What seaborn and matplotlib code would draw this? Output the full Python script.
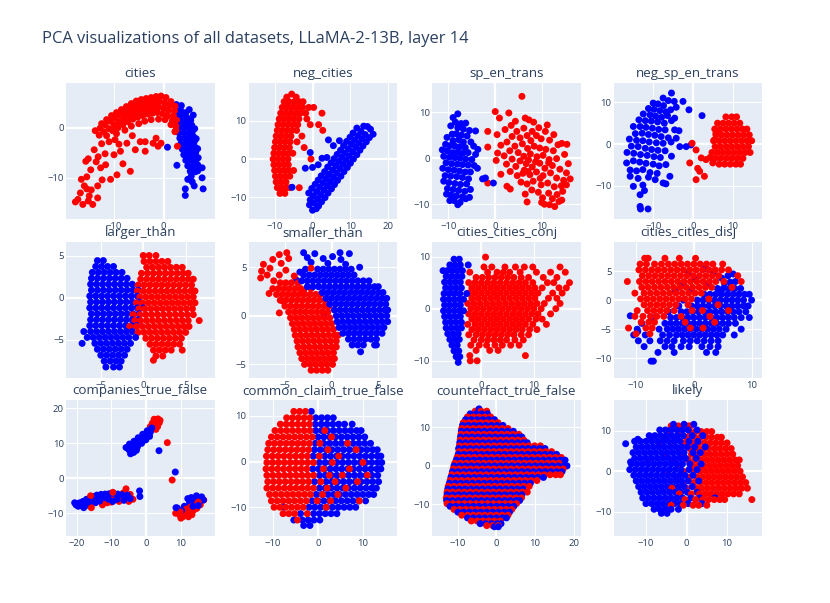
import numpy as np
import pandas as pd
import matplotlib
matplotlib.use("Agg")
import matplotlib.pyplot as plt
import seaborn as sns

sns.set_theme(style="darkgrid")
plt.rcParams["font.family"] = ["Open Sans", "DejaVu Sans"]
plt.rcParams["axes.unicode_minus"] = True

TEXT = "#2a3f5f"
BG = "#E5ECF6"
PALETTE = {"red": "#ff0000", "blue": "#0000ff"}

TITLE = "PCA visualizations of all datasets, LLaMA-2-13B, layer 14"

# ---------------- data ----------------
# cities
cities_red = [
    (-12.5, 0.8), (-11.5, 1.6), (-10.5, 2.4), (-9.5, 3.0), (-8.5, 3.6), (-7.5, 4.2), (-6.5, 4.8), (-5.5, 5.3),
    (-4.5, 5.6), (-3.5, 5.8), (-2.5, 6.0), (-1.5, 6.2), (-0.5, 6.3), (0.5, 6.0), (1.5, 5.2), (2.3, 4.3),
    (-13.8, -0.6), (-12.8, -0.1), (-11.8, 0.6), (-10.8, 1.3), (-9.8, 1.9), (-8.8, 2.5), (-7.8, 3.0), (-6.8, 3.6),
    (-5.8, 4.1), (-4.8, 4.5), (-3.8, 4.7), (-2.8, 4.9), (-1.8, 5.1), (-0.8, 5.2), (0.2, 5.0), (1.2, 4.4), (2.2, 3.4),
    (-13.0, -1.5), (-12.0, -0.8), (-11.0, -0.2), (-10.0, 0.6), (-9.0, 1.2), (-8.0, 1.8), (-7.0, 2.4), (-6.0, 2.9),
    (-5.0, 3.3), (-4.0, 3.6), (-3.0, 3.8), (-2.0, 4.0), (-1.0, 4.1), (0.0, 3.9), (1.0, 3.4), (2.0, 2.4), (2.6, 1.5),
    (-11.5, -1.6), (-10.3, -0.6), (-9.2, 0.0), (-8.2, 0.6), (-7.2, 1.2), (-6.2, 1.7), (-5.2, 2.1), (-4.2, 2.4),
    (-3.2, 2.7), (-2.2, 2.9), (-1.2, 3.0), (-0.2, 2.8), (0.8, 2.3), (1.8, 1.4), (2.5, 0.3),
    (-9.5, -1.2), (-7.8, -0.5), (-6.5, 0.3), (-5.0, 0.8), (-3.8, 1.3), (-2.5, 1.6), (-1.0, 1.7), (0.3, 1.6),
    (1.5, 0.6), (2.3, -0.8),
    (-14.0, -4.4), (-15.2, -6.2), (-15.7, -6.7), (-13.2, -5.8), (-12.5, -3.2), (-11.0, -2.8), (-14.7, -8.4),
    (-12.7, -8.0), (-11.7, -7.4), (-13.6, -6.8), (-16.6, -10.3), (-15.5, -9.8), (-16.0, -11.6), (-13.3, -11.6),
    (-10.7, -10.3), (-9.4, -9.4), (-6.7, -8.7), (-17.3, -14.3), (-16.3, -15.3), (-14.3, -15.3), (-13.3, -14.0),
    (-15.0, -13.6), (-16.8, -13.0), (-14.6, -12.4), (-10.0, -5.4), (-8.7, -4.7), (-5.7, -4.4), (-3.7, -4.7),
    (-7.4, -3.1), (-4.7, -2.8), (-2.1, -3.1), (-1.1, -3.7), (-0.5, -3.1), (-1.5, -2.1), (-3.7, -2.8), (-9.0, -3.3),
    (-11.8, -5.2), (-12.4, -10.4), (-15.5, -12.2), (-6.3, -1.6), (-9.8, -2.4), (-8.2, -7.2), (2.5, -0.5),
    (2.8, -3.7), (-17.8, -14.8), (-15.2, -14.6),
]
cities_blue = [
    (2.6, 4.6), (3.6, 4.4), (2.5, 3.5), (3.5, 3.4), (4.5, 3.0), (2.7, 2.4), (3.7, 2.3), (4.7, 2.0), (5.5, 1.5),
    (2.8, 1.2), (3.8, 1.2), (4.8, 1.0), (5.7, 0.5), (3.0, 0.1), (4.0, 0.1), (5.0, 0.0), (5.9, -0.6), (3.1, -1.0),
    (4.1, -1.0), (5.1, -1.1), (6.0, -1.7), (3.3, -2.1), (4.3, -2.1), (5.3, -2.2), (6.2, -2.8), (3.5, -3.2),
    (4.5, -3.2), (5.5, -3.3), (6.4, -3.9), (3.8, -4.3), (4.8, -4.3), (5.8, -4.4), (6.5, -5.0), (4.1, -5.4),
    (5.1, -5.4), (6.1, -5.6), (4.5, -6.5), (5.5, -6.5), (6.5, -6.6), (4.9, -7.6), (5.9, -7.7), (5.4, -8.7),
    (6.4, -8.8), (5.6, -9.7), (7.8, -8.0), (7.8, -10.0), (8.0, -12.2), (6.2, -11.6), (4.4, -12.2), (4.4, -13.5),
    (4.9, -10.3), (2.7, -7.5), (0.8, -3.9), (6.9, -8.6), (5.8, -10.8),
    (6.3, -0.2), (6.6, -2.2), (6.9, -4.2), (7.0, -6.0), (6.9, -7.4), (5.2, 3.6), (6.0, 2.5),
]

# neg_cities
neg_cities_red_rows = [
    (17.0, [-5.5]),
    (16.2, [-6.8, -4.3]),
    (15.0, [-7.5, -6.2, -4.8, -3.5, -2.5]),
    (13.5, [-8.0, -6.7, -5.4, -4.0, -2.6, -1.0, 0.3]),
    (12.0, [-8.4, -7.1, -5.8, -4.5, -3.2, -1.8, 2.5]),
    (10.5, [-8.8, -7.5, -6.2, -4.9, -3.6, -1.5]),
    (9.0, [-9.1, -7.8, -6.5, -5.2, -3.9, -0.6, 1.6]),
    (7.5, [-9.3, -8.0, -6.7, -5.4, -4.2, 2.7]),
    (6.0, [-9.6, -8.3, -7.0, -5.7, -2.8]),
    (4.5, [-9.8, -8.5, -7.2, -5.9, -4.1]),
    (3.0, [-10.0, -8.7, -7.4, -6.1, -2.2]),
    (1.5, [-10.2, -8.9, -7.6, -6.3, -5.2]),
    (0.0, [-10.4, -9.1, -7.8, -6.5, -0.4]),
    (-1.5, [-10.2, -8.9, -7.6, -6.4]),
    (-3.0, [-10.0, -8.7, -7.4, -6.2, -5.0]),
    (-4.5, [-9.8, -8.5, -7.2, -6.0]),
    (-6.0, [-9.6, -8.3, -7.0]),
    (-7.5, [-9.3, -8.0, -6.8, -5.9, -3.5]),
    (-9.0, [-8.6, -7.3]),
]
neg_cities_blue = [
    (0.5, -11.5), (1.3, -10.4), (2.2, -9.3), (3.0, -8.1), (3.9, -7.0), (4.7, -5.9), (5.5, -4.8), (6.4, -3.7),
    (7.2, -2.5), (8.1, -1.4), (8.9, -0.3), (9.7, 0.8), (10.6, 1.9), (11.4, 3.1), (12.2, 4.2), (13.1, 5.3), (13.9, 6.4),
    (-0.6, -10.7), (0.2, -9.6), (1.1, -8.5), (1.9, -7.3), (2.8, -6.2), (3.6, -5.1), (4.4, -4.0), (5.3, -2.9),
    (6.1, -1.7), (7.0, -0.6), (7.8, 0.5), (8.6, 1.6), (9.5, 2.7), (10.3, 3.9), (11.1, 5.0), (12.0, 6.1), (12.8, 7.2),
    (1.6, -12.3), (2.4, -11.2), (3.3, -10.1), (4.1, -8.9), (5.0, -7.8), (5.8, -6.7), (6.6, -5.6), (7.5, -4.5),
    (8.3, -3.3), (9.2, -2.2), (10.0, -1.1), (10.8, 0.0), (11.7, 1.1), (12.5, 2.3), (13.3, 3.4), (14.2, 4.5), (15.0, 5.6),
    (-1.0, -8.9), (-0.2, -7.7), (0.7, -6.6), (1.5, -5.5), (2.3, -4.4), (3.2, -3.3), (4.0, -2.1), (4.9, -1.0),
    (5.7, 0.1), (6.5, 1.2), (7.4, 2.3), (8.2, 3.5), (9.0, 4.6), (9.9, 5.7), (10.7, 6.8), (11.7, 8.1),
    (15.3, 7.8), (14.5, 8.5), (16.0, 6.5), (13.5, 8.6), (0.0, -13.4), (-0.8, -12.0), (1.0, -13.0),
    (4.2, 5.0), (7.1, 4.8), (2.5, 0.2), (3.8, 0.4), (-1.9, -2.4), (0.0, -2.2), (-0.6, 1.7), (-5.4, -7.4),
    (5.5, 3.5), (1.5, -1.5),
]

# sp_en_trans
sp_en_red = [
    (0.0, 10.1), (2.9, 9.8), (0.9, 8.7), (4.3, 8.0), (6.4, 8.7), (7.2, 8.3), (8.2, 7.8), (11.1, 7.2), (5.7, 13.4),
    (2.1, 6.2), (4.6, 5.8), (6.1, 6.5), (7.9, 5.8), (9.3, 6.6), (10.7, 5.8), (12.5, 5.1), (3.4, 7.1), (8.8, 4.9),
    (14.2, 3.2), (-1.6, 5.8), (0.4, 5.1), (3.6, 4.7), (5.3, 4.4), (6.8, 4.9), (7.6, 3.8), (9.8, 4.2), (11.6, 3.9),
    (13.4, 2.9), (15.3, 3.0), (2.5, 3.5), (-1.6, 2.4), (1.2, 2.8), (4.2, 2.6), (5.8, 3.1), (6.9, 2.1), (8.3, 2.6),
    (9.5, 2.2), (10.8, 1.9), (12.4, 1.6), (14.8, 0.8), (3.1, 1.6), (0.5, 1.1), (1.9, 0.5), (4.9, 1.2), (6.1, 0.4),
    (7.5, 0.9), (8.9, 0.3), (10.2, 0.6), (11.5, -0.3), (13.1, -0.1), (15.6, -1.2), (3.6, -0.2), (5.3, -0.6),
    (0.2, -0.5), (2.4, -1.3), (4.4, -1.8), (6.6, -1.2), (7.9, -1.9), (9.5, -1.1), (10.6, -2.2), (12.2, -1.6),
    (13.8, -2.4), (15.2, -3.2), (6.2, -2.6), (3.2, -2.9), (8.6, -0.8), (11.4, -1.0), (7.1, -0.4), (1.2, -3.5),
    (4.7, -3.8), (5.9, -3.3), (7.4, -3.6), (8.8, -3.0), (10.2, -3.8), (11.8, -3.2), (13.1, -4.3), (14.6, -4.8),
    (16.0, -4.5), (9.6, -4.4), (7.0, -2.9), (2.5, -6.1), (3.2, -6.7), (5.5, -5.2), (6.8, -5.6), (8.1, -5.0),
    (9.8, -5.8), (11.2, -5.4), (12.6, -6.2), (14.1, -6.0), (15.2, -5.8), (-1.6, -5.4), (7.8, -6.9), (6.4, -7.8),
    (9.2, -7.4), (11.4, -7.6), (13.2, -7.9), (14.4, -7.2), (10.1, -8.6), (12.2, -8.8), (6.8, -9.5), (9.9, -9.6),
    (10.5, -10.0), (11.6, -10.1), (12.7, -10.5), (13.6, -9.4), (14.2, -9.1),
]
sp_en_blue = [
    (-8.0, 9.6), (-9.0, 8.8), (-8.5, 7.8), (-7.3, 7.5), (-6.3, 7.6), (-9.5, 7.0), (-8.0, 6.6), (-6.8, 6.3),
    (-5.5, 6.0), (-4.2, 5.9), (-10.3, 4.5), (-9.2, 5.2), (-8.3, 5.3), (-7.2, 5.0), (-6.0, 4.8), (-7.8, 4.0),
    (-9.0, 3.8), (-5.2, 3.5), (-6.8, 3.5), (-10.6, 3.0), (-9.7, 2.7), (-8.6, 2.6), (-7.5, 2.5), (-6.4, 2.3),
    (-4.6, 2.6), (-3.7, 1.9), (-11.3, 1.8), (-10.2, 1.6), (-9.1, 1.2), (-8.0, 1.3), (-6.9, 1.1), (-5.8, 1.2),
    (-4.2, 0.8), (-11.0, 0.4), (-9.8, 0.2), (-8.6, 0.1), (-7.5, 0.0), (-6.3, -0.2), (-5.0, -0.3), (-10.5, -1.0),
    (-9.3, -1.2), (-8.1, -1.3), (-7.0, -1.4), (-5.8, -1.5), (-4.5, -1.6), (-3.8, -2.2), (-11.2, -2.2),
    (-10.0, -2.5), (-8.8, -2.6), (-7.6, -2.8), (-6.4, -3.0), (-5.3, -3.0), (-10.7, -3.8), (-9.5, -3.9),
    (-8.2, -4.0), (-7.0, -4.2), (-5.7, -4.5), (-11.0, -5.0), (-9.9, -5.3), (-8.6, -5.5), (-7.4, -5.7),
    (-6.1, -5.6), (-10.2, -6.6), (-9.0, -6.8), (-7.8, -7.0), (-6.5, -7.2), (-5.3, -6.8), (-9.5, -8.0),
    (-8.3, -8.2), (-7.0, -8.4), (-10.4, -7.8), (-8.8, -9.2), (-7.5, -9.6), (-6.3, -8.8), (-9.7, -9.2),
    (-8.0, -10.1), (-5.5, -8.5), (-2.7, -4.5), (-2.1, -4.3), (-0.4, -5.4),
]

# neg_sp_en_trans
neg_sp_en_red_rows = [
    (6.5, [8.3, 9.8, 11.0]),
    (5.0, [6.2, 7.6, 9.0, 10.4, 11.8]),
    (3.6, [5.5, 6.9, 8.3, 9.7, 11.1, 12.5, 13.6]),
    (2.2, [5.8, 7.2, 8.6, 10.0, 11.4, 12.8, 14.2]),
    (0.8, [5.2, 6.6, 8.0, 9.4, 10.8, 12.2, 13.6, 14.8]),
    (-0.6, [5.6, 7.0, 8.4, 9.8, 11.2, 12.6, 14.0]),
    (-2.0, [4.8, 6.2, 7.6, 9.0, 10.4, 11.8, 13.2, 14.4]),
    (-3.4, [5.6, 7.0, 8.4, 9.8, 11.2, 12.6]),
    (-4.8, [6.6, 8.0, 9.4, 10.8, 12.0]),
]
neg_sp_en_red_extra = [
    (-0.2, 0.2), (0.8, -1.4), (-0.8, -4.5), (0.8, -8.5), (1.7, -6.5), (2.9, -7.7), (2.1, -3.3), (3.3, -3.7),
    (5.0, -4.5), (5.4, 1.0), (4.3, -3.2), (1.2, -5.8), (5.8, 2.6),
]
neg_sp_en_blue = [
    (-5.4, 12.2), (-7.5, 11.0), (-6.2, 10.4), (-4.7, 10.2), (-2.5, 10.2), (-10.0, 9.8), (-8.8, 9.6), (-7.4, 9.2),
    (-1.0, 8.2), (-4.2, 8.8), (2.3, 6.8), (-11.2, 8.5), (-9.8, 8.3), (-8.3, 8.0), (-6.8, 7.7), (-5.6, 8.2),
    (-12.5, 7.2), (-10.8, 7.0), (-9.4, 6.7), (-7.9, 6.4), (-6.4, 6.8), (-4.6, 6.2), (-13.6, 5.8), (-12.0, 5.6),
    (-10.5, 5.5), (-8.9, 5.3), (-7.2, 5.0), (-5.4, 5.6), (-15.0, 4.2), (-13.3, 4.2), (-11.8, 4.0), (-10.2, 3.8),
    (-8.6, 3.5), (-7.0, 3.4), (-4.6, 3.4), (-3.5, 3.2), (-14.5, 2.5), (-12.8, 2.6), (-11.2, 2.3), (-9.6, 2.1),
    (-8.0, 1.8), (-6.2, 1.5), (-4.2, 1.4), (-16.0, 1.2), (-14.2, 0.9), (-12.6, 0.8), (-11.0, 0.5), (-9.2, 0.3),
    (-7.5, 0.2), (-5.5, 0.5), (-3.3, -0.6), (-1.7, -0.6), (-0.5, -0.2), (-15.5, -0.5), (-13.8, -0.6),
    (-12.0, -1.0), (-10.4, -1.3), (-8.8, -1.5), (-7.0, -1.6), (-16.6, -2.0), (-14.9, -2.2), (-13.2, -2.5),
    (-11.5, -2.7), (-9.8, -3.0), (-8.2, -3.2), (-5.4, -2.9), (-16.7, -4.5), (-15.0, -4.0), (-13.4, -4.3),
    (-11.8, -4.6), (-10.0, -4.8), (-8.5, -5.2), (-6.8, -4.9), (-15.8, -6.2), (-14.2, -6.4), (-12.6, -6.1),
    (-10.8, -6.8), (-9.0, -7.0), (-5.8, -7.7), (-15.8, -7.7), (-13.8, -8.2), (-11.2, -7.9), (-7.5, -9.3),
    (-6.8, -9.5), (-15.0, -10.1), (-12.6, -9.8), (-13.3, -12.1), (-13.3, -14.9), (-11.3, -15.5),
    (-13.2, -15.5), (-9.5, -8.5), (-12.2, -11.1),
]

# larger_than
larger_red_rows = [
    (5.0, [0.0, 0.7, 1.5]),
    (4.3, [0.1, 0.8, 1.5, 2.2, 2.9]),
    (3.6, [0.4, 1.1, 1.8, 2.5, 3.2, 3.9, 4.6]),
    (2.9, [-0.2, 0.5, 1.2, 1.9, 2.6, 3.3, 4.0, 4.7, 5.3]),
    (2.2, [-0.3, 0.4, 1.1, 1.8, 2.5, 3.2, 3.9, 4.6, 5.3, 5.9]),
    (1.5, [-0.6, 0.1, 0.8, 1.5, 2.2, 2.9, 3.6, 4.3, 5.0, 5.7]),
    (0.8, [-0.7, 0.0, 0.7, 1.4, 2.1, 2.8, 3.5, 4.2, 4.9, 5.6, 6.1]),
    (0.1, [-0.4, 0.3, 1.0, 1.7, 2.4, 3.1, 3.8, 4.5, 5.2, 5.9]),
    (-0.6, [-0.8, -0.1, 0.6, 1.3, 2.0, 2.7, 3.4, 4.1, 4.8, 5.5, 6.1]),
    (-1.3, [-0.5, 0.2, 0.9, 1.6, 2.3, 3.0, 3.7, 4.4, 5.1, 5.8]),
    (-2.0, [-1.2, -0.4, 0.3, 1.0, 1.7, 2.4, 3.1, 3.8, 4.5, 5.2, 5.9]),
    (-2.7, [-1.0, -0.3, 0.4, 1.1, 1.8, 2.5, 3.2, 3.9, 4.6, 5.3, 6.6]),
    (-3.4, [-1.6, -0.8, -0.1, 0.6, 1.3, 2.0, 2.7, 3.4, 4.1, 4.8, 5.4]),
    (-4.1, [-0.6, 0.1, 0.8, 1.5, 2.2, 2.9, 3.6, 4.3, 5.0]),
    (-4.8, [0.3, 1.0, 1.7, 2.4, 3.1, 3.8, 4.5]),
    (-5.5, [0.8, 1.5, 2.2, 2.9, 3.6, 4.3]),
    (-6.2, [1.2, 1.9, 2.6, 3.3, 4.6]),
    (-6.9, [1.5, 2.3]),
    (-7.4, [1.2]),
]
larger_blue_rows = [
    (4.4, [-5.4, -4.7]),
    (3.7, [-5.6, -4.9, -4.2, -3.5]),
    (3.0, [-6.0, -5.3, -4.6, -3.9, -3.2, -2.5]),
    (2.3, [-6.1, -5.4, -4.7, -4.0, -3.3, -2.6, -1.9]),
    (1.6, [-6.2, -5.5, -4.8, -4.1, -3.4, -2.7, -2.0, -1.3]),
    (0.9, [-6.1, -5.4, -4.7, -4.0, -3.3, -2.6, -1.9, -1.2, -0.6]),
    (0.2, [-6.3, -5.6, -4.9, -4.2, -3.5, -2.8, -2.1, -1.4, -0.7]),
    (-0.5, [-6.2, -5.5, -4.8, -4.1, -3.4, -2.7, -2.0, -1.3, -0.5]),
    (-1.2, [-6.3, -5.6, -4.9, -4.2, -3.5, -2.8, -2.1, -1.4, -0.7, 0.0]),
    (-1.9, [-6.1, -5.4, -4.7, -4.0, -3.3, -2.6, -1.9, -1.2, -0.5]),
    (-2.6, [-6.2, -5.5, -4.8, -4.1, -3.4, -2.7, -2.0, -1.3, -0.6]),
    (-3.3, [-6.3, -5.6, -4.9, -4.2, -3.5, -2.8, -2.1, -1.4, -0.8]),
    (-4.0, [-7.0, -6.2, -5.5, -4.8, -4.1, -3.4, -2.7, -2.0, -1.3]),
    (-4.7, [-6.6, -5.9, -5.2, -4.5, -3.8, -3.1, -2.4, -1.7, -0.9]),
    (-5.4, [-7.2, -5.7, -5.0, -4.3, -3.6, -2.9, -2.2, -1.5]),
    (-6.1, [-5.4, -4.7, -4.0, -3.3, -2.6, -1.9]),
    (-6.8, [-5.0, -4.3, -3.6, -2.9, -2.2]),
    (-7.5, [-4.6, -3.9, -3.2, -2.6]),
    (-8.2, [-4.4, -3.5, -2.8]),
]

# smaller_than
smaller_red_rows = [
    (3.4, [-5.5, -4.9, -4.3]),
    (2.8, [-6.3, -5.7, -5.1, -4.5, -3.9, -3.3, -2.2]),
    (2.2, [-5.9, -5.3, -4.7, -4.1, -3.5, -2.9, -2.3, -1.7, -1.2]),
    (1.6, [-5.5, -4.9, -4.3, -3.7, -3.1, -2.5, -1.9, -1.3, -0.7]),
    (1.0, [-5.0, -4.4, -3.8, -3.2, -2.6, -2.0, -1.4, -0.8, -0.3]),
    (0.4, [-4.6, -4.0, -3.4, -2.8, -2.2, -1.6, -1.0, -0.4]),
    (-0.2, [-4.4, -3.8, -3.2, -2.6, -2.0, -1.4, -0.8, -0.2]),
    (-0.8, [-4.2, -3.6, -3.0, -2.4, -1.8, -1.2, -0.6, 0.0]),
    (-1.4, [-4.0, -3.4, -2.8, -2.2, -1.6, -1.0, -0.4, 0.2]),
    (-2.0, [-3.9, -3.3, -2.7, -2.1, -1.5, -0.9, -0.3, 0.3, 0.7]),
    (-2.6, [-3.7, -3.1, -2.5, -1.9, -1.3, -0.7, -0.1, 0.5]),
    (-3.2, [-3.6, -3.0, -2.4, -1.8, -1.2, -0.6, 0.0, 0.5]),
    (-3.8, [-3.4, -2.8, -2.2, -1.6, -1.0, -0.4, 0.2]),
    (-4.4, [-3.2, -2.6, -2.0, -1.4, -0.8, -0.2, 0.3]),
    (-5.0, [-2.9, -2.3, -1.7, -1.1, -0.5, 0.1]),
    (-5.6, [-2.2, -1.6, -1.0, -0.4]),
]
smaller_red_extra = [
    (-7.5, 4.6), (-7.3, 5.3), (-6.3, 5.8), (-5.6, 6.3), (-4.8, 6.5), (-4.6, 5.9), (-5.4, 5.4), (-6.6, 4.9),
    (-7.6, 3.9), (-6.9, 4.2), (-4.9, 4.7), (-5.6, 4.2), (-6.2, 3.6), (-4.0, 4.1), (-3.6, 3.4), (-2.2, 4.9),
    (-3.0, 2.6), (-6.7, 2.3), (-5.2, 1.5), (-5.6, 0.3),
]
smaller_blue_rows = [
    (4.8, [-2.8, -1.5, -0.9, -0.3, 0.3, 0.9, 1.5, 2.1]),
    (4.2, [-3.0, -2.4, -1.8, -1.2, -0.6, 0.0, 0.6, 1.2, 1.8, 2.4]),
    (3.6, [-3.2, -2.6, -2.0, -1.4, -0.8, -0.2, 0.4, 1.0, 1.6, 2.2, 2.8, 3.4, 4.0]),
    (3.0, [-2.6, -2.0, -1.4, -0.8, -0.2, 0.4, 1.0, 1.6, 2.2, 2.8, 3.4, 4.0, 4.6, 5.0]),
    (2.4, [-1.0, -0.4, 0.2, 0.8, 1.4, 2.0, 2.6, 3.2, 3.8, 4.4, 5.0, 5.5]),
    (1.8, [-0.6, 0.0, 0.6, 1.2, 1.8, 2.4, 3.0, 3.6, 4.2, 4.8, 5.4, 5.9]),
    (1.2, [-0.2, 0.4, 1.0, 1.6, 2.2, 2.8, 3.4, 4.0, 4.6, 5.2, 5.8]),
    (0.6, [0.3, 0.9, 1.5, 2.1, 2.7, 3.3, 3.9, 4.5, 5.1, 5.7, 6.0]),
    (0.0, [0.5, 1.1, 1.7, 2.3, 2.9, 3.5, 4.1, 4.7, 5.3, 5.9]),
    (-0.6, [0.6, 1.2, 1.8, 2.4, 3.0, 3.6, 4.2, 4.8, 5.4, 6.0]),
    (-1.2, [0.8, 1.4, 2.0, 2.6, 3.2, 3.8, 4.4, 5.0, 5.6]),
    (-1.8, [1.2, 1.8, 2.4, 3.0, 3.6, 4.2, 4.8, 5.4]),
    (-2.4, [1.8, 2.4, 3.0, 3.6, 4.2, 4.8]),
    (-3.0, [2.2, 2.8, 3.4, 4.6, 4.8]),
    (-3.7, [3.1]),
]
smaller_blue_extra = [
    (-3.0, 6.5), (-2.6, 6.0), (-1.8, 6.4), (-0.9, 5.9), (0.1, 6.1), (1.0, 5.8), (1.9, 6.4), (3.0, 5.0),
    (-2.2, 5.5), (-0.4, 5.4), (1.5, 5.3), (-3.4, 4.5), (-3.8, 3.7), (0.9, 6.5), (-0.8, 0.2),
]

# cities_cities_conj
conj_red_rows = [
    (9.9, [0.8]),
    (8.0, [0.5, 2.0, 4.5, 6.5, 8.2, 9.8, 15.0]),
    (7.0, [-2.2, 1.2, 3.0, 4.2, 5.4, 7.4, 10.5, 13.2, 16.0]),
    (6.0, [-1.0, 0.2, 1.4, 2.6, 3.8, 5.0, 6.2, 7.6, 9.0, 11.8, 14.4]),
    (5.0, [-2.4, -1.2, 0.0, 1.2, 2.4, 3.6, 4.8, 6.0, 7.2, 8.4, 9.8, 12.6, 13.8, 16.8]),
    (4.0, [-1.8, -0.6, 0.6, 1.8, 3.0, 4.2, 5.4, 6.6, 7.8, 9.0, 10.2, 11.6, 14.8, 16.2]),
    (3.0, [-2.4, -1.2, 0.0, 1.2, 2.4, 3.6, 4.8, 6.0, 7.2, 8.4, 9.6, 10.8, 13.6, 15.4]),
    (2.0, [-1.8, -0.6, 0.6, 1.8, 3.0, 4.2, 5.4, 6.6, 7.8, 9.0, 10.2, 12.8, 14.4]),
    (1.0, [-2.6, -1.4, -0.2, 1.0, 2.2, 3.4, 4.6, 5.8, 7.0, 8.2, 9.4, 10.6, 12.0, 15.0]),
    (0.0, [-2.0, -0.8, 0.4, 1.6, 2.8, 4.0, 5.2, 6.4, 7.6, 8.8, 10.0, 11.4, 14.2]),
    (-1.0, [-2.4, -1.2, 0.0, 1.2, 2.4, 3.6, 4.8, 6.0, 7.2, 8.4, 9.6, 10.8, 13.2]),
    (-2.0, [-1.8, -0.6, 0.6, 1.8, 3.0, 4.2, 5.4, 6.6, 7.8, 9.0, 10.4, 11.6]),
    (-3.0, [-2.6, -1.2, 0.0, 1.2, 2.4, 3.6, 4.8, 6.0, 7.2, 8.4, 9.8, 12.4]),
    (-4.0, [-1.8, -0.6, 0.6, 1.8, 3.0, 4.2, 5.4, 6.6, 7.8, 9.2, 10.6]),
    (-5.0, [-2.4, -1.0, 0.2, 1.4, 2.6, 3.8, 5.0, 6.2, 7.6, 9.0]),
    (-6.0, [-1.4, 0.0, 1.2, 2.4, 3.6, 4.8, 6.4, 8.0]),
    (-7.0, [-2.0, -0.4, 1.0, 2.6, 4.0, 5.6, 7.2]),
    (-8.0, [-1.0, 1.6, 3.2]),
    (-9.0, [-2.2, 8.4]),
    (-10.0, [-2.1, -0.8]),
]
conj_blue_rows = [
    (9.5, [-5.2, -4.2]),
    (8.4, [-6.0, -5.0, -4.0, -2.5]),
    (7.3, [-7.3, -6.5, -5.5, -4.5, -3.6]),
    (6.2, [-6.7, -5.7, -4.7, -3.7]),
    (5.1, [-7.0, -6.0, -5.0, -4.0]),
    (4.0, [-6.8, -5.8, -4.8, -3.8]),
    (2.9, [-7.1, -6.1, -5.1, -4.1, -2.8]),
    (1.8, [-7.2, -6.2, -5.2, -4.2, -3.4]),
    (0.7, [-7.0, -6.0, -5.0, -4.0]),
    (-0.4, [-7.2, -6.2, -5.2, -4.2, -3.4]),
    (-1.5, [-7.0, -6.0, -5.0, -4.0]),
    (-2.6, [-6.8, -5.8, -4.8, -3.8]),
    (-3.7, [-6.7, -5.7, -4.7, -3.8]),
    (-4.8, [-6.4, -5.4, -4.4]),
    (-5.9, [-6.0, -5.0, -4.2]),
    (-7.0, [-5.6, -4.6]),
    (-8.1, [-5.2, -4.3]),
    (-9.2, [-4.8, -4.1]),
    (-10.3, [-4.4]),
]

# cities_cities_disj
disj_red_rows = [
    (7.2, [-8.5, -7.9, -5.0, -2.5, 0.3]),
    (6.2, [-9.3, -8.2, -6.8, -5.6, -4.4, -3.3, -2.2, -1.1, 0.0, 1.1, 2.2, 3.3, 5.0]),
    (5.2, [-9.5, -8.4, -7.3, -6.2, -5.1, -4.0, -2.9, -1.8, -0.7, 0.4, 1.5, 2.6, 3.7, 4.8, 6.0]),
    (4.2, [-8.9, -7.8, -6.7, -5.6, -4.5, -3.4, -2.3, -1.2, -0.1, 1.0, 2.1, 3.2, 4.3, 7.6]),
    (3.2, [-11.5, -9.4, -8.3, -7.2, -6.1, -5.0, -3.9, -2.8, -1.7, -0.6, 0.5, 1.6, 2.7, 3.8, 5.2, 8.2]),
    (2.2, [-9.0, -7.9, -6.8, -5.7, -4.6, -3.5, -2.4, -1.3, -0.2, 0.9, 2.0, 3.1, 6.6]),
    (1.2, [-10.2, -8.6, -7.5, -6.4, -5.3, -4.2, -3.1, -2.0, -0.9, 0.2, 1.3]),
    (0.2, [-9.2, -8.1, -7.0, -5.9, -4.8, -3.7, -2.6, -1.5, -0.4, 2.6]),
    (-0.8, [-8.6, -7.5, -6.4, -5.3, -4.2, -3.1, -1.0, 4.2]),
    (-1.8, [-9.8, -8.0, -6.9, -5.8, -4.7, -3.4, -0.3, 1.5, 6.0]),
    (-2.8, [-10.2, -8.8, -7.5, -6.4, -5.2, -2.2, 2.8]),
    (-3.8, [-9.1, -7.8, -6.8, -1.5, 3.6]),
    (-4.8, [-11.3, -8.3, -7.2, -0.6, 1.6]),
    (-5.8, [-10.0, -7.6]),
]
disj_blue_rows = [
    (2.0, [4.1, 5.1, 6.1, 7.1, 8.1]),
    (1.0, [1.8, 2.8, 3.8, 4.8, 5.8, 6.8, 7.8, 8.8, 9.6]),
    (0.0, [-1.8, 0.6, 1.6, 2.6, 3.6, 4.6, 5.6, 6.6, 7.6, 8.6, 10.0]),
    (-1.0, [-2.6, -0.4, 0.6, 1.6, 2.6, 3.6, 4.6, 5.6, 6.6, 7.6, 8.6, 9.4]),
    (-2.0, [-4.4, -2.2, -1.2, -0.2, 0.8, 1.8, 2.8, 3.8, 4.8, 5.8, 6.8, 7.8, 9.0]),
    (-3.0, [-7.2, -4.0, -3.0, -2.0, -1.0, 0.0, 1.0, 2.0, 3.0, 4.0, 5.0, 6.0, 7.0, 8.2, 9.6]),
    (-4.0, [-9.0, -5.0, -4.0, -3.0, -2.0, -1.0, 0.0, 1.0, 2.0, 3.0, 4.0, 5.0, 6.0, 7.2]),
    (-5.0, [-9.8, -6.0, -4.6, -3.6, -2.6, -1.6, -0.6, 0.4, 1.4, 2.4, 3.4, 4.4, 5.6, 8.2]),
    (-6.0, [-10.4, -8.4, -5.4, -4.2, -3.0, -2.0, -1.0, 0.0, 1.0, 2.0, 3.0, 4.0, 5.0, 7.0]),
    (-7.0, [-9.6, -7.6, -5.8, -4.6, -3.4, -1.8, -0.6, 0.6, 1.8, 3.0, 4.2]),
    (-8.0, [-8.6, -5.0, -3.8, -2.2, -0.8, 1.4, 2.8, 4.2]),
    (-9.0, [-6.2, -3.4, 2.2, 3.8]),
    (-10.5, [-7.4, -7.0]),
]
disj_blue_extra = [
    (1.8, 5.4), (3.4, 4.6), (4.8, 3.8), (5.9, 4.2), (5.3, 2.9), (6.3, 3.1), (-1.8, 2.7), (0.2, 3.6),
    (-3.2, 1.6), (-0.4, 1.8), (2.5, 2.8), (4.3, 1.6), (6.8, 4.5), (7.2, 3.2), (-1.0, 4.8), (-11.0, -2.7),
    (-9.7, -5.4),
]

# companies_true_false
companies_red = [
    (1.2, 14.8), (2.2, 14.5), (3.3, 14.8), (1.8, 15.8), (2.8, 15.9), (3.8, 15.9), (2.3, 16.9), (3.4, 17.0),
    (4.0, 16.6), (1.5, 13.9), (2.8, 14.0), (6.1, 10.2), (7.5, -0.5), (-5.8, -3.0),
    (-18.8, -7.4), (-17.6, -7.0), (-16.4, -7.8), (-15.2, -6.4), (-14.0, -6.2), (-12.8, -6.4), (-11.6, -5.8),
    (-10.4, -5.2), (-9.2, -5.4), (-8.0, -5.2), (-6.8, -5.6), (-5.6, -5.7), (-4.6, -4.6), (-3.8, -6.0),
    (-5.0, -6.6), (-6.6, -4.2), (-7.8, -6.6), (-10.0, -6.8), (-11.2, -7.0), (-12.6, -7.6), (-15.8, -8.4),
    (-9.6, -4.0), (-16.0, -5.0),
    (8.5, -10.0), (9.6, -10.4), (10.6, -11.0), (11.6, -10.2), (12.6, -9.6), (13.6, -9.2), (14.6, -8.6),
    (15.6, -7.6), (16.6, -6.2), (10.0, -11.4), (12.2, -11.0), (13.2, -10.4), (14.2, -7.8), (11.6, -8.8),
    (12.8, -8.2), (15.0, -6.8), (9.8, -9.6),
]
companies_blue = [
    (-5.8, 8.8), (-4.6, 8.4), (-3.6, 7.4), (-4.8, 9.8), (-3.6, 9.4), (-2.5, 9.0), (-3.5, 10.6), (-2.4, 10.3),
    (-1.3, 10.0), (-2.3, 11.6), (-1.2, 11.3), (-0.1, 11.0), (-1.0, 12.6), (0.1, 12.3), (1.0, 12.0), (0.3, 13.6),
    (1.2, 13.2), (1.6, 14.4), (-4.5, 7.0), (-2.8, 8.0), (-5.0, 8.2), (3.7, 7.9), (8.4, 1.8), (-1.9, -3.6),
    (-1.8, -5.2),
    (-20.2, -7.6), (-19.2, -7.0), (-18.2, -6.6), (-17.2, -6.0), (-16.2, -5.6), (-15.2, -5.2), (-14.2, -4.8),
    (-13.0, -4.6), (-11.8, -4.5), (-10.6, -4.4), (-9.4, -4.3), (-8.2, -4.5), (-7.0, -4.7), (-19.6, -8.0),
    (-18.4, -7.8), (-17.0, -7.6), (-15.8, -7.3), (-14.6, -7.0), (-13.4, -6.5), (-12.0, -5.5), (-10.8, -6.0),
    (-9.6, -6.6), (-8.4, -6.0), (-16.6, -6.7), (-13.8, -5.6), (-5.4, -4.8), (-4.6, -5.8), (-6.4, -6.3),
    (-18.0, -8.4), (-20.6, -7.0),
    (13.0, -5.5), (14.5, -5.0), (16.0, -5.3), (15.5, -6.5), (14.0, -6.5), (12.5, -7.0), (11.0, -8.0), (9.0, -8.5),
    (16.5, -6.2), (12.0, -5.8), (13.5, -8.0), (15.0, -7.8), (10.2, -9.2), (8.6, -8.4),
]

# common_claim_true_false
common_red_rows = [
    (11.0, [-5.4, -4.1, -2.8]),
    (9.6, [-7.0, -5.7, -4.4, -3.1, -1.8]),
    (8.2, [-8.4, -7.1, -5.8, -4.5, -3.2, -1.9]),
    (6.8, [-9.6, -8.3, -7.0, -5.7, -4.4, -3.1, -1.8, 1.5]),
    (5.4, [-10.4, -9.1, -7.8, -6.5, -5.2, -3.9, -2.6, -1.3, 3.0]),
    (4.0, [-11.0, -9.7, -8.4, -7.1, -5.8, -4.5, -3.2, -1.9, 0.4, 6.6]),
    (2.6, [-11.2, -9.9, -8.6, -7.3, -6.0, -4.7, -3.4, -2.1, 2.2, 8.5]),
    (1.2, [-11.5, -10.2, -8.9, -7.6, -6.3, -5.0, -3.7, -2.4, 0.3, 4.6]),
    (-0.2, [-11.4, -10.1, -8.8, -7.5, -6.2, -4.9, -3.6, -2.3, -1.0, 3.2, 10.0]),
    (-1.6, [-11.6, -10.3, -9.0, -7.7, -6.4, -5.1, -3.8, -2.5, 1.2, 7.0]),
    (-3.0, [-11.4, -10.1, -8.8, -7.5, -6.2, -4.9, -3.6, -2.3, -1.0, 2.5, 5.4, 11.0]),
    (-4.4, [-11.2, -9.9, -8.6, -7.3, -6.0, -4.7, -3.4, -2.1, 0.6, 3.8, 8.8]),
    (-5.8, [-11.4, -10.1, -8.8, -7.5, -6.2, -4.9, -3.6, -2.3, -1.0, 2.0, 6.2]),
    (-7.2, [-10.8, -9.5, -8.2, -6.9, -5.6, -4.3, -3.0, -1.7, 1.0, 4.4]),
    (-8.6, [-10.4, -9.1, -7.8, -6.5, -5.2, -3.9, -2.6, -0.2, 2.8, 9.2]),
    (-10.0, [-9.8, -8.5, -7.2, -5.9, -4.6, -3.3, 1.8]),
    (-11.4, [-7.8, -6.5, -5.2, -2.4]),
    (-12.8, [-4.6]),
]
common_blue_rows = [
    (11.0, [-1.5]),
    (9.6, [-0.5, 0.8, 2.1, 3.4]),
    (8.2, [-0.6, 0.7, 2.0, 3.3, 4.6, 5.9, 7.6]),
    (6.8, [-0.5, 0.8, 2.1, 3.4, 4.7, 6.0, 7.3, 8.6, 9.6]),
    (5.4, [0.0, 1.3, 2.6, 3.9, 5.2, 6.5, 7.8, 9.1, 10.4]),
    (4.0, [-0.6, 1.3, 2.6, 3.9, 5.2, 6.5, 7.8, 9.1, 10.4, 11.7]),
    (2.6, [-0.8, 0.5, 1.8, 3.1, 4.4, 5.7, 7.0, 8.3, 9.6, 10.9, 12.2, 13.2]),
    (1.2, [-1.1, 0.2, 1.5, 2.8, 4.1, 5.4, 6.7, 8.0, 9.3, 10.6, 11.9, 13.2, 14.0]),
    (-0.2, [0.3, 1.6, 2.9, 4.2, 5.5, 6.8, 8.1, 9.4, 10.7, 12.0, 13.3, 14.2]),
    (-1.6, [-1.2, 0.1, 1.4, 2.7, 4.0, 5.3, 6.6, 7.9, 9.2, 10.5, 11.8, 13.1, 14.0]),
    (-3.0, [0.3, 1.6, 2.9, 4.2, 5.5, 6.8, 8.1, 9.4, 10.7, 12.0, 13.3]),
    (-4.4, [-0.8, 0.5, 1.8, 3.1, 4.4, 5.7, 7.0, 8.3, 9.6, 10.9, 12.2, 13.5]),
    (-5.8, [0.3, 1.6, 2.9, 4.2, 5.5, 6.8, 8.1, 9.4, 10.7, 12.0, 13.0]),
    (-7.2, [-0.4, 0.9, 2.2, 3.5, 4.8, 6.1, 7.4, 8.7, 10.0, 11.3, 12.4]),
    (-8.6, [-1.3, 0.0, 1.3, 2.6, 3.9, 5.2, 6.5, 7.8, 9.1, 10.6]),
    (-10.0, [-7.6, -2.0, -0.7, 0.6, 1.9, 3.2, 4.5, 5.8, 7.1, 8.4]),
    (-11.4, [-3.9, -1.0, 0.3, 1.6, 2.9, 4.2]),
    (-12.8, [-5.4, -3.5, -2.2, -0.9, 0.4]),
    (-14.0, [-3.2, -1.8]),
]

# counterfact_true_false
counterfact_red_rows = [
    (14.2, [-5.5, -4.0, -2.5]),
    (12.7, [-7.5, -6.0, -4.5, -3.0, -1.5]),
    (11.2, [-8.6, -7.1, -5.6, -4.1, -2.6, -1.1, 0.4]),
    (9.7, [-9.0, -7.5, -6.0, -4.5, -3.0, -1.5, 0.0, 1.5, 3.0]),
    (8.2, [-9.2, -7.7, -6.2, -4.7, -3.2, -1.7, -0.2, 1.3, 2.8, 4.3, 5.8]),
    (6.7, [-9.4, -7.9, -6.4, -4.9, -3.4, -1.9, -0.4, 1.1, 2.6, 4.1, 5.6, 7.1]),
    (5.2, [-9.6, -8.1, -6.6, -5.1, -3.6, -2.1, -0.6, 0.9, 2.4, 3.9, 5.4, 6.9, 8.4, 9.9, 11.4]),
    (3.7, [-9.7, -8.2, -6.7, -5.2, -3.7, -2.2, -0.7, 0.8, 2.3, 3.8, 5.3, 6.8, 8.3, 9.8, 11.3, 12.8, 14.3]),
    (2.2, [-10.2, -8.7, -7.2, -5.7, -4.2, -2.7, -1.2, 0.3, 1.8, 3.3, 4.8, 6.3, 7.8, 9.3, 10.8, 12.3, 13.8,
           15.3, 16.8]),
    (0.7, [-10.8, -9.3, -7.8, -6.3, -4.8, -3.3, -1.8, -0.3, 1.2, 2.7, 4.2, 5.7, 7.2, 8.7, 10.2, 11.7, 13.2,
           14.7, 16.2]),
    (-0.8, [-11.2, -9.7, -8.2, -6.7, -5.2, -3.7, -2.2, -0.7, 0.8, 2.3, 3.8, 5.3, 6.8, 8.3, 9.8, 11.3, 12.8,
            14.3, 15.8, 17.3]),
    (-2.3, [-11.6, -10.1, -8.6, -7.1, -5.6, -4.1, -2.6, -1.1, 0.4, 1.9, 3.4, 4.9, 6.4, 7.9, 9.4, 10.9, 12.4,
            13.9, 15.4, 16.6]),
    (-3.8, [-12.0, -10.5, -9.0, -7.5, -6.0, -4.5, -3.0, -1.5, 0.0, 1.5, 3.0, 4.5, 6.0, 7.5, 9.0, 10.5]),
    (-5.3, [-12.5, -11.0, -9.5, -8.0, -6.5, -5.0, -3.5, -2.0, -0.5, 1.0, 2.5, 4.0, 5.5, 7.0, 8.5]),
    (-6.8, [-12.8, -11.3, -9.8, -8.3, -6.8, -5.3, -3.8, -2.3, -0.8, 0.7, 2.2, 3.7, 5.2, 6.7, 8.0]),
    (-8.3, [-13.0, -11.5, -10.0, -8.5, -7.0, -5.5, -4.0, -2.5, -1.0, 0.5, 2.0, 3.5, 5.0, 6.5]),
    (-9.8, [-12.8, -11.3, -9.8, -8.3, -6.8, -5.3, -3.8, -2.3, -0.8, 0.7, 2.2, 3.7, 5.2]),
    (-11.3, [-11.0, -9.5, -8.0, -6.5, -5.0, -3.5, -2.0, -0.5, 1.0, 2.5, 4.0]),
    (-12.8, [-9.0, -7.5, -6.0, -4.5, -3.0, -1.5, 0.0, 1.5, 3.0]),
    (-14.3, [-6.5, -5.0, -3.5, -2.0, -0.5, 1.0]),
    (-15.5, [-2.5, -1.0, 0.5]),
]
counterfact_blue_rows = [
    (14.8, [-4.5]),
    (13.5, [-6.8, -5.3, -3.8, -2.3]),
    (12.0, [-8.0, -6.5, -5.0, -3.5, -2.0, -0.5]),
    (10.5, [-8.8, -7.3, -5.8, -4.3, -2.8, -1.3, 0.2, 1.7]),
    (9.0, [-9.1, -7.6, -6.1, -4.6, -3.1, -1.6, -0.1, 1.4, 2.9, 4.4]),
    (7.5, [-9.3, -7.8, -6.3, -4.8, -3.3, -1.8, -0.3, 1.2, 2.7, 4.2, 5.7, 6.6]),
    (6.0, [-9.5, -8.0, -6.5, -5.0, -3.5, -2.0, -0.5, 1.0, 2.5, 4.0, 5.5, 7.0, 8.0]),
    (4.5, [-9.8, -8.3, -6.8, -5.3, -3.8, -2.3, -0.8, 0.7, 2.2, 3.7, 5.2, 6.7, 8.2, 9.7, 11.2, 12.6]),
    (3.0, [-9.9, -8.4, -6.9, -5.4, -3.9, -2.4, -0.9, 0.6, 2.1, 3.6, 5.1, 6.6, 8.1, 9.6, 11.1, 12.6, 14.1, 15.6]),
    (1.5, [-10.4, -8.9, -7.4, -5.9, -4.4, -2.9, -1.4, 0.1, 1.6, 3.1, 4.6, 6.1, 7.6, 9.1, 10.6, 12.1, 13.6,
           15.1, 16.6, 17.8]),
    (0.0, [-11.0, -9.5, -8.0, -6.5, -5.0, -3.5, -2.0, -0.5, 1.0, 2.5, 4.0, 5.5, 7.0, 8.5, 10.0, 11.5, 13.0,
           14.5, 16.0, 17.5, 18.3]),
    (-1.5, [-11.4, -9.9, -8.4, -6.9, -5.4, -3.9, -2.4, -0.9, 0.6, 2.1, 3.6, 5.1, 6.6, 8.1, 9.6, 11.1, 12.6,
            14.1, 15.6, 17.0]),
    (-3.0, [-11.8, -10.3, -8.8, -7.3, -5.8, -4.3, -2.8, -1.3, 0.2, 1.7, 3.2, 4.7, 6.2, 7.7, 9.2, 10.7, 12.2]),
    (-4.5, [-12.2, -10.7, -9.2, -7.7, -6.2, -4.7, -3.2, -1.7, -0.2, 1.3, 2.8, 4.3, 5.8, 7.3, 8.8]),
    (-6.0, [-12.6, -11.1, -9.6, -8.1, -6.6, -5.1, -3.6, -2.1, -0.6, 0.9, 2.4, 3.9, 5.4, 6.9]),
    (-7.5, [-12.8, -11.3, -9.8, -8.3, -6.8, -5.3, -3.8, -2.3, -0.8, 0.7, 2.2, 3.7, 5.2, 6.6]),
    (-9.0, [-12.9, -11.4, -9.9, -8.4, -6.9, -5.4, -3.9, -2.4, -0.9, 0.6, 2.1, 3.6, 5.1, 6.0]),
    (-10.5, [-12.0, -10.5, -9.0, -7.5, -6.0, -4.5, -3.0, -1.5, 0.0, 1.5, 3.0, 4.5]),
    (-12.0, [-10.0, -8.5, -7.0, -5.5, -4.0, -2.5, -1.0, 0.5, 2.0, 3.4]),
    (-13.5, [-7.5, -6.0, -4.5, -3.0, -1.5, 0.0, 1.5, 2.6]),
    (-15.0, [-4.2, -2.8, -1.3, 0.2, 1.2]),
    (-15.8, [-0.5, 0.5]),
]

# likely
likely_red_rows = [
    (11.2, [-3.8, -2.0, 0.4, 1.0]),
    (9.8, [-4.4, -1.6, 0.8, 2.2, 3.6, 5.0, 6.2]),
    (8.4, [-8.6, -5.6, -2.8, 0.0, 2.0, 3.4, 4.8, 6.2, 7.6, 8.6]),
    (7.0, [-6.8, -3.6, -0.8, 1.6, 3.0, 4.4, 5.8, 7.2, 8.6, 10.0]),
    (5.6, [-2.0, 0.8, 2.6, 4.0, 5.4, 6.8, 8.2, 9.6, 11.0]),
    (4.2, [-5.0, -1.2, 1.2, 3.0, 4.4, 5.8, 7.2, 8.6, 10.0, 11.4]),
    (2.8, [-9.6, -3.0, 0.4, 2.0, 3.6, 5.0, 6.4, 7.8, 9.2, 10.6, 12.0, 13.0]),
    (1.4, [-2.0, 1.4, 2.8, 4.2, 5.6, 7.0, 8.4, 9.8, 11.2, 12.6]),
    (0.0, [-4.6, -0.8, 1.8, 3.4, 4.8, 6.2, 7.6, 9.0, 10.4, 11.8, 13.2]),
    (-1.4, [-2.6, 0.8, 2.6, 4.0, 5.4, 6.8, 8.2, 9.6, 11.0, 12.4, 13.8]),
    (-2.8, [-1.0, 1.8, 3.4, 4.8, 6.2, 7.6, 9.0, 10.4, 11.8, 13.2, 14.6]),
    (-4.2, [-3.6, 0.0, 2.4, 3.8, 5.2, 6.6, 8.0, 9.4, 10.8, 12.2, 13.6, 15.0]),
    (-5.6, [-1.8, 1.2, 3.2, 4.6, 6.0, 7.4, 8.8, 10.2, 11.6, 13.0]),
    (-7.0, [-0.4, 2.2, 4.0, 5.4, 6.8, 8.2, 9.4, 16.1]),
    (-8.4, [-3.8, -0.8, 1.6, 3.0, 5.0]),
]
likely_blue_rows = [
    (11.6, [-3.2, -0.6, 1.8]),
    (10.2, [-6.6, -5.2, -3.8, -2.4, -1.0, 0.4, 2.6]),
    (8.8, [-9.2, -7.8, -6.4, -5.0, -3.6, -2.2, -0.8, 1.4, 4.0]),
    (7.4, [-12.8, -11.4, -10.0, -8.6, -7.2, -5.8, -4.4, -3.0, -1.6, 0.6, 2.8]),
    (6.0, [-12.4, -11.0, -9.6, -8.2, -6.8, -5.4, -4.0, -2.6, -1.2, 0.2, 2.0, 4.6]),
    (4.6, [-13.2, -11.8, -10.4, -9.0, -7.6, -6.2, -4.8, -3.4, -2.0, -0.6, 1.6, 3.4]),
    (3.2, [-12.8, -11.4, -10.0, -8.6, -7.2, -5.8, -4.4, -3.0, -1.6, -0.2, 2.4]),
    (1.8, [-13.6, -12.2, -10.8, -9.4, -8.0, -6.6, -5.2, -3.8, -2.4, -1.0, 0.8, 3.6]),
    (0.4, [-14.0, -12.6, -11.2, -9.8, -8.4, -7.0, -5.6, -4.2, -2.8, -1.4, 0.6, 2.6]),
    (-1.0, [-13.0, -11.6, -10.2, -8.8, -7.4, -6.0, -4.6, -3.2, -1.8, -0.4, 1.6]),
    (-2.4, [-12.4, -11.0, -9.6, -8.2, -6.8, -5.4, -4.0, -2.6, -1.2, 0.4, 3.0]),
    (-3.8, [-11.8, -10.4, -9.0, -7.6, -6.2, -4.8, -3.4, -2.0, -0.6, 1.4]),
    (-5.2, [-11.2, -9.8, -8.4, -7.0, -5.6, -4.2, -2.8, -1.4, 0.2, 2.6]),
    (-6.6, [-10.8, -9.4, -8.0, -6.6, -5.2, -3.8, -2.4, -1.0, 1.0, 3.2, 7.0]),
    (-8.0, [-10.0, -8.6, -7.2, -5.8, -4.4, -3.0, -1.6, 0.4, 3.8]),
    (-9.4, [-8.0, -6.6, -5.2, -3.8, -2.0]),
    (-10.4, [-6.2, -4.8]),
]
likely_blue_extra = [(-15.0, 6.8), (-13.8, 2.3), (-12.0, 7.9)]

# axis ranges and ticks per panel
TITLES = ["cities", "neg_cities", "sp_en_trans", "neg_sp_en_trans",
          "larger_than", "smaller_than", "cities_cities_conj", "cities_cities_disj",
          "companies_true_false", "common_claim_true_false", "counterfact_true_false", "likely"]
XLIMS = [(-19.7, 10.3), (-16.9, 22.3), (-13.5, 18.2), (-20.0, 17.4),
         (-9.1, 8.4), (-8.9, 7.0), (-9.4, 18.9), (-13.9, 11.8),
         (-23.1, 19.7), (-15.5, 17.6), (-16.7, 21.8), (-18.0, 18.6)]
YLIMS = [(-18.2, 8.9), (-15.7, 19.9), (-13.2, 16.3), (-17.9, 14.6),
         (-9.5, 6.6), (-6.4, 7.6), (-13.3, 12.8), (-13.4, 10.0),
         (-16.5, 22.4), (-16.3, 13.5), (-18.2, 17.1), (-16.0, 17.6)]
XTICKS = [[-10, 0], [-10, 0, 10, 20], [-10, 0, 10], [-10, 0, 10],
          [-5, 0, 5], [-5, 0, 5], [0, 10], [-10, 0, 10],
          [-20, -10, 0, 10], [-10, 0, 10], [-10, 0, 10, 20], [-10, 0, 10]]
YTICKS = [[-10, 0], [-10, 0, 10], [-10, 0, 10], [-10, 0, 10],
          [-5, 0, 5], [-5, 0, 5], [-10, 0, 10], [-10, -5, 0, 5],
          [-10, 0, 10, 20], [-10, 0, 10], [-10, 0, 10], [-10, 0, 10]]


def rows_to_points(rows):
    return [(x, y) for y, xs in rows for x in xs]


RED = [
    cities_red,
    rows_to_points(neg_cities_red_rows),
    sp_en_red,
    rows_to_points(neg_sp_en_red_rows) + neg_sp_en_red_extra,
    rows_to_points(larger_red_rows),
    smaller_red_extra + rows_to_points(smaller_red_rows),
    rows_to_points(conj_red_rows),
    rows_to_points(disj_red_rows),
    companies_red,
    rows_to_points(common_red_rows),
    rows_to_points(counterfact_red_rows),
    rows_to_points(likely_red_rows),
]
BLUE = [
    cities_blue,
    neg_cities_blue,
    sp_en_blue,
    neg_sp_en_blue,
    rows_to_points(larger_blue_rows),
    smaller_blue_extra + rows_to_points(smaller_blue_rows),
    rows_to_points(conj_blue_rows),
    disj_blue_extra + rows_to_points(disj_blue_rows),
    companies_blue,
    rows_to_points(common_blue_rows),
    rows_to_points(counterfact_blue_rows),
    likely_blue_extra + rows_to_points(likely_blue_rows),
]


def panel_frame(red, blue):
    r = pd.DataFrame(red, columns=["x", "y"])
    r["label"] = "red"
    r["order"] = np.arange(len(r)) / len(r)
    b = pd.DataFrame(blue, columns=["x", "y"])
    b["label"] = "blue"
    b["order"] = (np.arange(len(b)) + 0.5) / len(b)
    return pd.concat([r, b], ignore_index=True).sort_values("order", kind="stable")


# layout in pixels (figure is 830 x 603)
FIG_W, FIG_H = 830, 603
COL_LEFT = [66, 248.5, 432, 613.5]
ROW_TOP = [83, 242, 400]
PW, PH = 148.5, 136

fig = plt.figure(figsize=(FIG_W / 100, FIG_H / 100), dpi=100)
fig.patch.set_facecolor("white")

for i, title in enumerate(TITLES):
    row, col = divmod(i, 4)
    ax = fig.add_axes([COL_LEFT[col] / FIG_W, 1 - (ROW_TOP[row] + PH) / FIG_H, PW / FIG_W, PH / FIG_H])
    df = panel_frame(RED[i], BLUE[i])
    sns.scatterplot(data=df, x="x", y="y", hue="label", palette=PALETTE, s=25,
                    linewidth=0, legend=False, ax=ax)
    ax.set_facecolor(BG)
    ax.set_axisbelow(True)
    ax.grid(True, color="white", linewidth=0.8)
    ax.axhline(0, color="white", linewidth=1.6, zorder=0.6)
    ax.axvline(0, color="white", linewidth=1.6, zorder=0.6)
    ax.set_xlim(*XLIMS[i])
    ax.set_ylim(*YLIMS[i])
    ax.set_xticks(XTICKS[i])
    ax.set_yticks(YTICKS[i])
    ax.set_xlabel("")
    ax.set_ylabel("")
    ax.tick_params(axis="x", length=0, pad=2, labelsize=6.8, labelcolor=TEXT)
    ax.tick_params(axis="y", length=0, pad=1.5, labelsize=6.8, labelcolor=TEXT)
    for s in ax.spines.values():
        s.set_visible(False)
    ax.set_title(title, fontsize=9.6, color=TEXT, pad=4)

fig.text(42 / FIG_W, 1 - 43 / FIG_H, TITLE, fontsize=11.9, color=TEXT, ha="left", va="baseline")

fig.savefig("out.png", dpi=100, facecolor="white")
